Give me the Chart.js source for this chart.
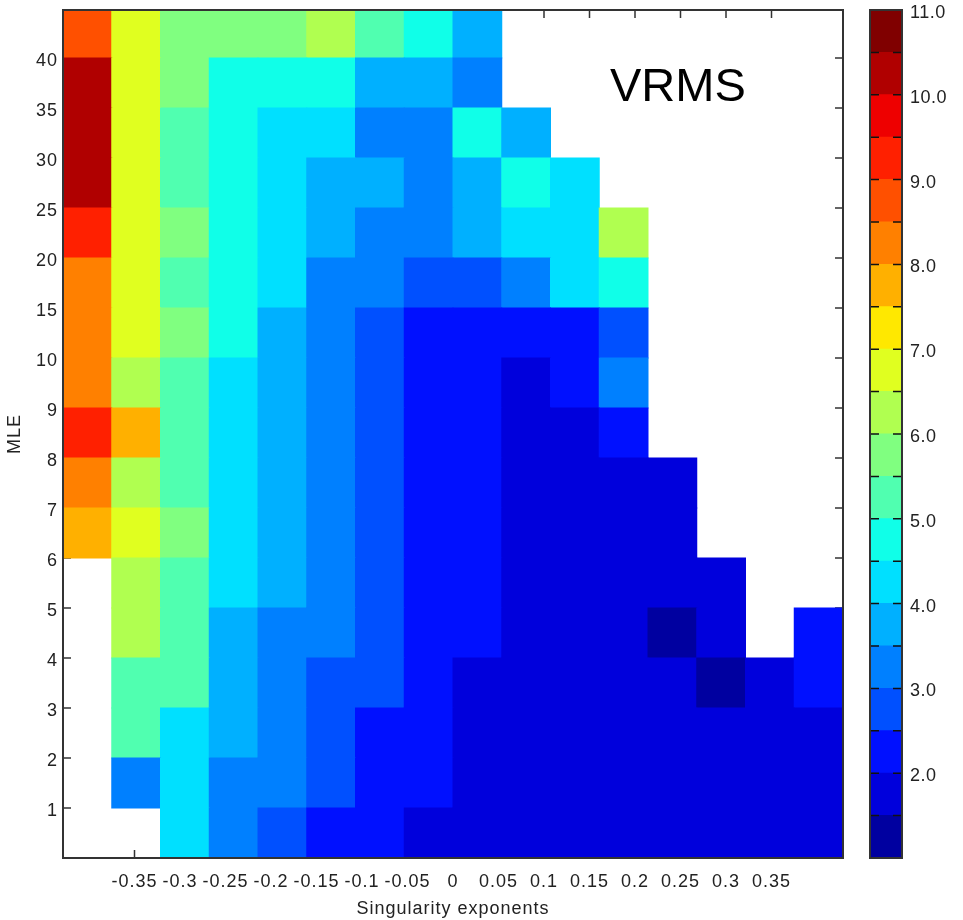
<!DOCTYPE html>
<html><head><meta charset="utf-8">
<script src="https://cdn.jsdelivr.net/npm/chart.js@4"></script>
<style>
html,body{margin:0;padding:0;background:#fff;width:963px;height:920px;overflow:hidden;}
#wrap{position:relative;width:963px;height:920px;}
#main{position:absolute;left:0;top:0;}
#cbar{position:absolute;left:843px;top:0;}
#vrms{position:absolute;left:610px;top:61px;font-family:'Liberation Sans',Arial,sans-serif;font-size:47px;line-height:47px;color:#000;white-space:nowrap;}
</style></head>
<body><div id="wrap">
<canvas id="main" width="860" height="920"></canvas>
<canvas id="cbar" width="120" height="920"></canvas>
<div id="vrms">VRMS</div>
</div>
<script>
// ---- data ----
const columns = ['-0.375','-0.325','-0.275','-0.225','-0.175','-0.125','-0.075','-0.025','0.025','0.075','0.125','0.175','0.225','0.275','0.325','0.375'];
const xTickLabels = ['-0.35','-0.3','-0.25','-0.2','-0.15','-0.1','-0.05','0','0.05','0.1','0.15','0.2','0.25','0.3','0.35'];
const yTickLabels = ['1','2','3','4','5','6','7','8','9','10','15','20','25','30','35','40'];
const colorLevels = [1.0,1.5,2.0,2.5,3.0,3.5,4.0,4.5,5.0,5.5,6.0,6.5,7.0,7.5,8.0,8.5,9.0,9.5,10.0,10.5,11.0];
const levelColors = ['#0000a0','#0000dc','#0010ff','#0050ff','#0080ff','#00b0ff','#00e0ff','#10ffe8','#50ffb0','#80ff80','#b0ff50','#e0ff20','#ffe800','#ffb000','#ff8000','#ff5000','#ff2000','#ee0000','#b00000','#800000'];
const colorbarTicks = ['2.0','3.0','4.0','5.0','6.0','7.0','8.0','9.0','10.0','11.0'];

// VRMS per MLE row (bottom row first), one value per singularity-exponent column
const row00 = [null,null,4.25,3.25,2.75,2.25,2.25,1.75,1.75,1.75,1.75,1.75,1.75,1.75,1.75,1.75];
const row01 = [null,3.25,4.25,3.25,3.25,2.75,2.25,2.25,1.75,1.75,1.75,1.75,1.75,1.75,1.75,1.75];
const row02 = [null,5.25,4.25,3.75,3.25,2.75,2.25,2.25,1.75,1.75,1.75,1.75,1.75,1.75,1.75,1.75];
const row03 = [null,5.25,5.25,3.75,3.25,2.75,2.75,2.25,1.75,1.75,1.75,1.75,1.75,1.25,1.75,2.25];
const row04 = [null,6.25,5.25,3.75,3.25,3.25,2.75,2.25,2.25,1.75,1.75,1.75,1.25,1.75,null,2.25];
const row05 = [null,6.25,5.25,4.25,3.75,3.25,2.75,2.25,2.25,1.75,1.75,1.75,1.75,1.75,null,null];
const row06 = [7.75,6.75,5.75,4.25,3.75,3.25,2.75,2.25,2.25,1.75,1.75,1.75,1.75,null,null,null];
const row07 = [8.25,6.25,5.25,4.25,3.75,3.25,2.75,2.25,2.25,1.75,1.75,1.75,1.75,null,null,null];
const row08 = [9.25,7.75,5.25,4.25,3.75,3.25,2.75,2.25,2.25,1.75,1.75,2.25,null,null,null,null];
const row09 = [8.25,6.25,5.25,4.25,3.75,3.25,2.75,2.25,2.25,1.75,2.25,3.25,null,null,null,null];
const row10 = [8.25,6.75,5.75,4.75,3.75,3.25,2.75,2.25,2.25,2.25,2.25,2.75,null,null,null,null];
const row11 = [8.25,6.75,5.25,4.75,4.25,3.25,3.25,2.75,2.75,3.25,4.25,4.75,null,null,null,null];
const row12 = [9.25,6.75,5.75,4.75,4.25,3.75,3.25,3.25,3.75,4.25,4.25,6.25,null,null,null,null];
const row13 = [10.25,6.75,5.25,4.75,4.25,3.75,3.75,3.25,3.75,4.75,4.25,null,null,null,null,null];
const row14 = [10.25,6.75,5.25,4.75,4.25,4.25,3.25,3.25,4.75,3.75,null,null,null,null,null,null];
const row15 = [10.25,6.75,5.75,4.75,4.75,4.75,3.75,3.75,3.25,null,null,null,null,null,null,null];
const row16 = [8.75,6.75,5.75,5.75,5.75,6.25,5.25,4.75,3.75,null,null,null,null,null,null,null];
const rows = [row00,row01,row02,row03,row04,row05,row06,row07,row08,row09,row10,row11,row12,row13,row14,row15,row16];

// ---- helpers ----
function colorFor(v){
  for (let i = 0; i < levelColors.length; i++) {
    if (v >= colorLevels[i] && v < colorLevels[i+1]) return levelColors[i];
  }
  return v < colorLevels[0] ? levelColors[0] : levelColors[levelColors.length-1];
}
const FONT = "'Liberation Sans', Arial, sans-serif";
Chart.defaults.font.family = FONT;
Chart.defaults.color = '#222';

function spacingPlugin(px){
  return {
    id: 'spacing',
    beforeUpdate(chart){ chart.ctx.letterSpacing = px; },
    beforeDraw(chart){ chart.ctx.letterSpacing = px; }
  };
}
function noPad(s){ s.paddingTop = 0; s.paddingBottom = 0; s.paddingLeft = 0; s.paddingRight = 0; }

const heatDatasets = rows.map((vals, r) => ({
  label: 'row' + r,
  data: vals.map(v => v === null ? null : [r, r + 1]),
  backgroundColor: vals.map(v => v === null ? 'rgba(0,0,0,0)' : colorFor(v)),
  borderWidth: 0,
  grouped: false,
  barPercentage: 1,
  categoryPercentage: 1,
  inflateAmount: 0.5
}));

const frameTicks = {
  id: 'frameTicks',
  beforeDatasetsDraw(chart){
    const {ctx, chartArea: a, scales} = chart;
    ctx.save();
    ctx.strokeStyle = '#333';
    ctx.lineWidth = 1.5;
    ctx.beginPath();
    scales.xt.ticks.forEach(t => {
      const x = scales.xt.getPixelForValue(t.value);
      ctx.moveTo(x, a.bottom); ctx.lineTo(x, a.bottom - 8);
      ctx.moveTo(x, a.top); ctx.lineTo(x, a.top + 8);
    });
    scales.y.ticks.forEach(t => {
      const y = scales.y.getPixelForValue(t.value);
      ctx.moveTo(a.left, y); ctx.lineTo(a.left + 8, y);
      ctx.moveTo(a.right, y); ctx.lineTo(a.right - 8, y);
    });
    ctx.stroke();
    ctx.restore();
  },
  afterDatasetsDraw(chart){
    const {ctx, chartArea: a} = chart;
    ctx.save();
    ctx.strokeStyle = '#333';
    ctx.lineWidth = 2;
    ctx.strokeRect(a.left, a.top, a.right - a.left, a.bottom - a.top);
    ctx.restore();
  }
};

new Chart(document.getElementById('main'), {
  type: 'bar',
  data: { labels: columns, datasets: heatDatasets },
  options: {
    responsive: false,
    animation: false,
    events: [],
    layout: { padding: { top: 10, right: 17, bottom: 0, left: 0 } },
    plugins: { legend: { display: false }, tooltip: { enabled: false } },
    scales: {
      x: { type: 'category', display: false, offset: true },
      xt: {
        type: 'linear', axis: 'x', position: 'bottom', min: 0, max: 16,
        afterBuildTicks(s){ s.ticks = xTickLabels.map((_, i) => ({ value: i + 1 })); },
        afterFit(s){ s.height = 62; noPad(s); },
        grid: { display: false, drawTicks: false },
        border: { display: false },
        ticks: { autoSkip: false, maxRotation: 0, padding: 13, font: { size: 18 }, color: '#222',
          callback: (v, i) => xTickLabels[i] },
        title: { display: true, text: 'Singularity exponents', font: { size: 18 }, color: '#222', padding: { top: 0, bottom: 0 } }
      },
      y: {
        type: 'linear', min: 0, max: 16.96,
        afterBuildTicks(s){ s.ticks = yTickLabels.map((_, i) => ({ value: i + 1 })); },
        afterFit(s){ s.width = 63; noPad(s); },
        grid: { display: false, drawTicks: false },
        border: { display: false },
        ticks: { autoSkip: false, padding: 5, labelOffset: 3, font: { size: 18 }, color: '#222',
          callback: (v, i) => yTickLabels[i] },
        title: { display: true, text: 'MLE', font: { size: 18 }, color: '#222', padding: { top: 4, bottom: 0 } }
      }
    }
  },
  plugins: [spacingPlugin('1px'), frameTicks]
});

// ---- colorbar ----
const cbDatasets = levelColors.map((c, i) => ({
  label: 'band' + i,
  data: [[colorLevels[i], colorLevels[i+1]]],
  backgroundColor: c,
  borderWidth: 0,
  grouped: false,
  barPercentage: 1,
  categoryPercentage: 1,
  inflateAmount: 0.5
}));

const cbFrame = {
  id: 'cbFrame',
  afterDatasetsDraw(chart){
    const {ctx, chartArea: a, scales} = chart;
    ctx.save();
    ctx.strokeStyle = '#111';
    ctx.lineWidth = 1.5;
    ctx.beginPath();
    colorLevels.slice(1, -1).forEach(v => {
      const y = scales.y.getPixelForValue(v);
      ctx.moveTo(a.left, y); ctx.lineTo(a.left + 9, y);
      ctx.moveTo(a.right, y); ctx.lineTo(a.right - 9, y);
    });
    ctx.stroke();
    ctx.strokeStyle = '#333';
    ctx.lineWidth = 2;
    ctx.strokeRect(a.left, a.top, a.right - a.left, a.bottom - a.top);
    ctx.restore();
  }
};

new Chart(document.getElementById('cbar'), {
  type: 'bar',
  data: { labels: ['VRMS'], datasets: cbDatasets },
  options: {
    responsive: false,
    animation: false,
    events: [],
    layout: { padding: { top: 10, right: 0, bottom: 62, left: 27 } },
    plugins: { legend: { display: false }, tooltip: { enabled: false } },
    scales: {
      x: { type: 'category', display: false, offset: true },
      y: {
        type: 'linear', position: 'right', min: 1, max: 11,
        afterBuildTicks(s){ s.ticks = colorbarTicks.map(t => ({ value: parseFloat(t) })); },
        afterFit(s){ s.width = 61; noPad(s); },
        grid: { display: false, drawTicks: false },
        border: { display: false },
        ticks: { autoSkip: false, padding: 8, labelOffset: 3, font: { size: 18 }, color: '#222',
          callback: (v, i) => colorbarTicks[i] }
      }
    }
  },
  plugins: [spacingPlugin('0.5px'), cbFrame]
});
</script>
</body></html>
